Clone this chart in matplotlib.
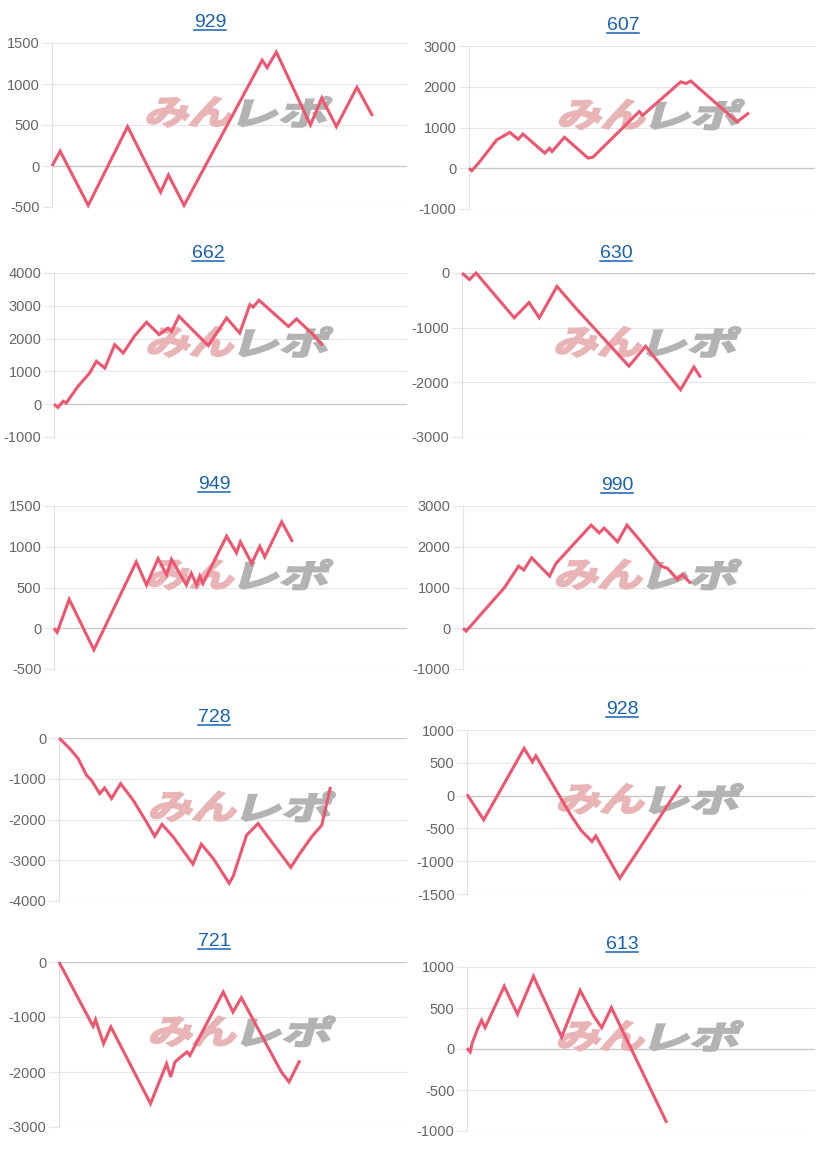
import matplotlib
matplotlib.use('Agg')
import matplotlib.pyplot as plt
from matplotlib.textpath import TextPath
from matplotlib.patches import PathPatch
from matplotlib.font_manager import FontProperties
from matplotlib.transforms import Affine2D
from matplotlib.lines import Line2D

plt.rcParams['font.family'] = ['Liberation Sans', 'DejaVu Sans']

# ---------------- data (x: position along the session, 0-100 = full axis) -------------
titles = ['929', '607', '662', '630', '949', '990', '728', '928', '721', '613']

x_929 = [0, 2.3, 10.2, 21.3, 30.6, 32.8, 37.2, 59.2, 60.6, 63.2, 72.8, 76.0, 80.1, 85.9, 90.3]
y_929 = [0, 180, -480, 480, -320, -110, -480, 1290, 1200, 1390, 500, 830, 480, 960, 610]
t_929 = [-500, 0, 500, 1000, 1500]

x_607 = [0, 0.8, 2.7, 8.0, 11.8, 14.2, 15.6, 21.9, 23.3, 24.0, 27.6, 34.4, 35.8, 49.2, 50.2, 61.2, 62.7, 64.1, 77.5, 80.9]
y_607 = [0, -60, 120, 695, 880, 710, 840, 370, 490, 410, 760, 250, 270, 1390, 1300, 2120, 2080, 2140, 1140, 1360]
t_607 = [-1000, 0, 1000, 2000, 3000]

x_662 = [0, 1.1, 2.6, 3.5, 6.8, 10.1, 12.0, 14.4, 17.2, 19.6, 22.9, 26.2, 29.8, 32.3, 33.3, 35.4, 43.7, 48.9, 52.6, 55.5, 56.4, 58.1, 66.4, 68.7, 73.4, 76.1]
y_662 = [0, -100, 90, 40, 545, 950, 1310, 1100, 1815, 1560, 2090, 2500, 2120, 2320, 2220, 2680, 1785, 2630, 2170, 3035, 2960, 3170, 2370, 2600, 2120, 1795]
t_662 = [-1000, 0, 1000, 2000, 3000, 4000]

x_630 = [0, 2.1, 4.0, 14.8, 19.0, 21.9, 26.9, 31.8, 47.3, 52.0, 61.9, 65.7, 67.6]
y_630 = [0, -120, 0, -820, -540, -820, -245, -610, -1705, -1340, -2135, -1720, -1910]
t_630 = [-3000, -2000, -1000, 0]

x_949 = [0, 0.9, 4.3, 11.3, 23.3, 26.2, 29.5, 31.9, 33.3, 37.5, 38.9, 40.4, 41.3, 42.2, 48.9, 51.7, 52.8, 56.0, 58.3, 59.7, 64.5, 67.6]
y_949 = [0, -50, 355, -265, 815, 530, 855, 655, 845, 530, 675, 530, 640, 550, 1130, 925, 1060, 795, 1005, 875, 1305, 1060]
t_949 = [-500, 0, 500, 1000, 1500]

x_990 = [0, 0.9, 11.8, 15.8, 17.3, 19.5, 24.6, 26.4, 36.4, 38.7, 40.1, 43.9, 46.6, 49.6, 56.2, 58.1, 60.9, 62.3, 64.7]
y_990 = [0, -70, 1000, 1525, 1430, 1730, 1280, 1590, 2530, 2340, 2460, 2120, 2530, 2225, 1525, 1470, 1200, 1320, 1100]
t_990 = [-1000, 0, 1000, 2000, 3000]

x_728 = [0, 3.1, 5.5, 7.9, 9.3, 11.7, 13.1, 15.1, 17.7, 21.3, 25.1, 27.5, 29.6, 32.8, 38.5, 40.9, 44.3, 48.9, 50.0, 53.9, 57.2, 66.6, 69.2, 72.6, 75.5, 78.0]
y_728 = [0, -260, -505, -915, -1035, -1365, -1225, -1485, -1120, -1525, -2055, -2410, -2120, -2425, -3095, -2605, -2955, -3565, -3405, -2385, -2100, -3175, -2835, -2425, -2140, -1200]
t_728 = [-4000, -3000, -2000, -1000, 0]

x_928 = [0, 4.8, 16.4, 18.8, 19.8, 29.8, 32.7, 35.9, 37.0, 43.9, 50.4, 61.4]
y_928 = [20, -370, 720, 515, 605, -295, -525, -700, -615, -1260, -740, 160]
t_928 = [-1500, -1000, -500, 0, 500, 1000]

x_721 = [0, 9.8, 10.5, 12.8, 14.9, 21.6, 26.3, 30.9, 32.1, 33.3, 35.2, 36.8, 37.6, 47.2, 50.0, 52.4, 63.9, 66.1, 69.2]
y_721 = [0, -1170, -1050, -1485, -1180, -2000, -2575, -1850, -2090, -1820, -1715, -1635, -1700, -545, -910, -650, -2000, -2180, -1790]
t_721 = [-3000, -2000, -1000, 0]

x_613 = [0, 0.9, 1.6, 3.1, 4.2, 5.2, 10.7, 14.5, 19.1, 27.2, 32.5, 36.3, 38.7, 41.5, 57.4]
y_613 = [10, -35, 85, 250, 350, 260, 765, 425, 885, 145, 715, 410, 260, 505, -900]
t_613 = [-1000, -500, 0, 500, 1000]

xs = [x_929, x_607, x_662, x_630, x_949, x_990, x_728, x_928, x_721, x_613]
ys = [y_929, y_607, y_662, y_630, y_949, y_990, y_728, y_928, y_721, y_613]
ts = [t_929, t_607, t_662, t_630, t_949, t_990, t_728, t_928, t_721, t_613]

# ---------------- layout (pixels) ----------------
W, H = 816, 1150
boxes = [(52, 43, 407, 207), (469, 46, 815, 209),
         (54, 273, 407, 437), (462, 273, 815, 437),
         (54, 506, 407, 669), (463, 506, 815, 669),
         (59, 738, 407, 901), (467, 730, 815, 894),
         (59, 962, 407, 1127), (467, 967, 815, 1131)]
title_pos = [(210, 27), (623, 30), (208, 258), (616, 258), (214, 489),
             (617, 490), (214, 722), (622, 714), (214, 946), (622, 949)]

LINE = '#ee5670'
TITLE_C = '#1a62b0'

fig = plt.figure(figsize=(W / 100, H / 100), dpi=100)
fig.patch.set_facecolor('white')

fp_wm = FontProperties(family='Noto Sans CJK JP', weight='bold')
p_min = TextPath((0, 0), 'みん', size=34, prop=fp_wm)
p_repo = TextPath((0, 0), 'レポ', size=34, prop=fp_wm)


def watermark(ax, cx, cy):
    e1 = p_min.get_extents()
    e2 = p_repo.get_extents()
    sx1, sx2 = 1.3, 1.45
    w1 = e1.width * sx1
    w2 = e2.width * sx2
    gap = 8
    total = w1 + gap + w2
    x0 = cx - total / 2
    yb = cy - e1.height / 2
    t1 = Affine2D().translate(-e1.x0, -e1.y0).scale(sx1, 1).skew_deg(16, 0).translate(x0, yb)
    t2 = Affine2D().translate(-e2.x0, -e2.y0).scale(sx2, e1.height / e2.height).skew_deg(16, 0) \
        .translate(x0 + w1 + gap, yb)
    ax.add_patch(PathPatch(p_min, transform=t1, facecolor='#e9b4b6', edgecolor='#e9b4b6',
                           linewidth=1.6, zorder=1.5, clip_on=False))
    ax.add_patch(PathPatch(p_repo, transform=t2, facecolor='#b3b3b3', edgecolor='#b3b3b3',
                           linewidth=1.6, zorder=1.5, clip_on=False))


for i in range(10):
    L, T, R, B = boxes[i]
    ax = fig.add_axes([L / W, (H - B) / H, (R - L) / W, (B - T) / H])
    ax.set_facecolor('none')
    ax.set_xlim(0, 100)
    ax.set_ylim(ts[i][0], ts[i][-1])
    ax.set_yticks(ts[i])
    ax.set_yticklabels([str(v) for v in ts[i]])
    ax.set_xticks([])
    for s in ['top', 'right', 'bottom']:
        ax.spines[s].set_visible(False)
    ax.spines['left'].set_color('#e2e2e2')
    ax.spines['left'].set_linewidth(0.8)
    ax.yaxis.grid(True, color='#e6e6e6', linewidth=0.8)
    ax.set_axisbelow(True)
    ax.tick_params(axis='y', length=7.5, width=0.8, color='#e6e6e6', labelsize=10.5,
                   labelcolor='#666666', pad=1.5)
    if 0 in ts[i]:
        ax.axhline(0, color='#c6c6c6', linewidth=0.9, zorder=1)
    watermark(ax, (L + R) / 2 + 5, H - (T + 0.42 * (B - T)))
    ax.plot(xs[i], ys[i], color=LINE, linewidth=2.2, zorder=3, clip_on=False,
            solid_joinstyle='miter', solid_capstyle='butt')

texts = []
for i in range(10):
    tx, tb = title_pos[i]
    t = fig.text(tx / W, (H - tb) / H, titles[i], ha='center', va='baseline',
                 fontsize=14, color=TITLE_C)
    texts.append((t, tb))

renderer = fig.canvas.get_renderer()
for t, tb in texts:
    bb = t.get_window_extent(renderer)
    yl = (H - tb - 2.8) / H
    fig.add_artist(Line2D([bb.x0 / W, bb.x1 / W], [yl, yl], transform=fig.transFigure,
                          color=TITLE_C, linewidth=1.1))

fig.savefig('out.png', dpi=100)
